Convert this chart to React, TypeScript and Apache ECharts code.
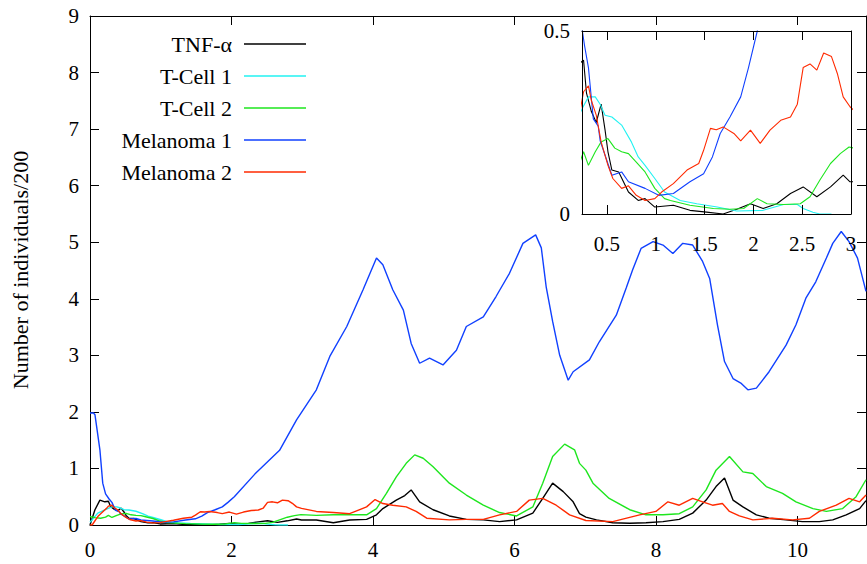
import React, { useEffect, useRef } from "react";
import * as echarts from "echarts";

const FONT = "Liberation Serif";

const mainXTicks = [0, 2, 4, 6, 8, 10];
const insetXTicks = [0.5, 1, 1.5, 2, 2.5, 3];
const yAxisTitle = "Number of individuals/200";

const seriesNames = ["TNF-\u03b1", "T-Cell 1", "T-Cell 2", "Melanoma 1", "Melanoma 2"];
const seriesColors = ["#000000", "#22f2f2", "#1ee61e", "#1040ff", "#ff2a00"];

const tnfX = [0, 0.07, 0.14, 0.21, 0.26, 0.29, 0.34, 0.39, 0.44, 0.48, 0.51, 0.55, 0.62, 0.72, 0.82, 0.89, 0.99, 1.18, 1.35, 1.52, 1.69, 1.83, 1.97, 2.1, 2.24, 2.38, 2.51, 2.65, 2.79, 2.92, 2.99, 3.2, 3.44, 3.67, 3.91, 4.05, 4.14, 4.33, 4.45, 4.54, 4.66, 4.85, 5.08, 5.32, 5.56, 5.79, 6.03, 6.26, 6.4, 6.54, 6.69, 6.83, 6.92, 7.01, 7.16, 7.39, 7.63, 7.86, 8.1, 8.33, 8.52, 8.71, 8.85, 8.97, 9.09, 9.23, 9.42, 9.6, 9.84, 10.07, 10.31, 10.5, 10.69, 10.88, 10.97];
const tnfY = [0, 0.27, 0.44, 0.41, 0.42, 0.33, 0.28, 0.25, 0.3, 0.23, 0.17, 0.12, 0.115, 0.06, 0.037, 0.042, 0.019, 0.024, 0.01, 0.005, 0, 0.013, 0.028, 0.015, 0.028, 0.056, 0.074, 0.047, 0.074, 0.106, 0.088, 0.088, 0.04, 0.088, 0.1, 0.18, 0.29, 0.44, 0.52, 0.62, 0.41, 0.27, 0.16, 0.1, 0.09, 0.06, 0.09, 0.21, 0.47, 0.74, 0.59, 0.41, 0.2, 0.14, 0.09, 0.04, 0.03, 0.04, 0.06, 0.1, 0.21, 0.44, 0.68, 0.83, 0.44, 0.32, 0.18, 0.12, 0.09, 0.06, 0.06, 0.09, 0.18, 0.29, 0.43];

const tcell1X = [0, 0.11, 0.25, 0.31, 0.38, 0.43, 0.48, 0.55, 0.65, 0.75, 0.82, 0.89, 0.99, 1.09, 1.25, 1.42, 1.63, 1.83, 2.1, 2.31, 2.45, 2.51, 2.61, 2.68, 2.8];
const tcell1Y = [0.05, 0.21, 0.29, 0.32, 0.32, 0.3, 0.27, 0.265, 0.243, 0.197, 0.156, 0.133, 0.097, 0.06, 0.037, 0.028, 0.019, 0.008, 0.01, 0.026, 0.026, 0.015, 0.005, 0, 0];

const tcell2X = [0, 0.07, 0.15, 0.22, 0.26, 0.31, 0.38, 0.44, 0.51, 0.58, 0.65, 0.72, 0.8, 0.89, 0.99, 1.09, 1.15, 1.35, 1.59, 1.76, 1.9, 2.04, 2.14, 2.31, 2.48, 2.58, 2.68, 2.79, 2.89, 2.98, 3.2, 3.44, 3.91, 4.05, 4.19, 4.33, 4.47, 4.59, 4.71, 4.85, 5.08, 5.32, 5.56, 5.79, 6.03, 6.26, 6.4, 6.54, 6.71, 6.85, 6.92, 7.01, 7.11, 7.34, 7.63, 7.86, 8.1, 8.33, 8.52, 8.71, 8.85, 9.04, 9.23, 9.37, 9.56, 9.79, 9.98, 10.22, 10.41, 10.64, 10.83, 10.97];
const tcell2Y = [0.15, 0.13, 0.12, 0.14, 0.17, 0.133, 0.17, 0.197, 0.206, 0.18, 0.17, 0.165, 0.142, 0.115, 0.07, 0.042, 0.037, 0.024, 0.015, 0.013, 0.015, 0.042, 0.028, 0.026, 0.028, 0.047, 0.092, 0.138, 0.165, 0.183, 0.17, 0.18, 0.18, 0.29, 0.56, 0.85, 1.09, 1.24, 1.18, 1.03, 0.74, 0.53, 0.35, 0.22, 0.16, 0.32, 0.74, 1.21, 1.43, 1.33, 1.09, 0.97, 0.74, 0.47, 0.27, 0.18, 0.18, 0.2, 0.32, 0.62, 0.97, 1.21, 0.94, 0.91, 0.68, 0.56, 0.41, 0.29, 0.24, 0.29, 0.5, 0.8];

const mel1X = [0, 0.05, 0.07, 0.14, 0.18, 0.22, 0.27, 0.31, 0.36, 0.41, 0.43, 0.55, 0.65, 0.72, 0.89, 1.03, 1.18, 1.35, 1.49, 1.58, 1.66, 1.76, 1.87, 1.95, 2.04, 2.33, 2.68, 2.92, 3.2, 3.39, 3.63, 3.86, 4.05, 4.14, 4.28, 4.43, 4.54, 4.66, 4.8, 4.99, 5.18, 5.32, 5.56, 5.74, 5.93, 6.12, 6.3, 6.38, 6.45, 6.54, 6.64, 6.76, 6.83, 7.06, 7.2, 7.44, 7.58, 7.67, 7.79, 7.96, 8.1, 8.24, 8.38, 8.52, 8.66, 8.76, 8.87, 8.97, 9.09, 9.2, 9.3, 9.42, 9.6, 9.84, 9.98, 10.12, 10.26, 10.41, 10.5, 10.62, 10.73, 10.85, 10.97];
const mel1Y = [1.98, 1.98, 1.95, 1.33, 0.74, 0.55, 0.46, 0.4, 0.26, 0.24, 0.2, 0.106, 0.115, 0.088, 0.07, 0.051, 0.056, 0.088, 0.11, 0.156, 0.22, 0.265, 0.32, 0.4, 0.5, 0.9, 1.32, 1.86, 2.39, 2.98, 3.51, 4.16, 4.72, 4.6, 4.16, 3.8, 3.21, 2.86, 2.95, 2.83, 3.09, 3.51, 3.68, 4.04, 4.45, 4.98, 5.13, 4.9, 4.2, 3.6, 3.0, 2.56, 2.71, 2.92, 3.24, 3.71, 4.19, 4.51, 4.89, 5.01, 4.95, 4.8, 4.98, 4.95, 4.66, 4.36, 3.54, 2.89, 2.59, 2.51, 2.39, 2.42, 2.71, 3.18, 3.54, 4.01, 4.3, 4.72, 4.98, 5.19, 5.01, 4.72, 4.13];

const mel2X = [0, 0.03, 0.11, 0.23, 0.26, 0.31, 0.34, 0.39, 0.44, 0.51, 0.56, 0.65, 0.72, 0.8, 0.89, 0.99, 1.06, 1.18, 1.32, 1.44, 1.49, 1.56, 1.62, 1.69, 1.8, 1.87, 1.97, 2.07, 2.17, 2.28, 2.38, 2.45, 2.51, 2.58, 2.65, 2.72, 2.8, 2.86, 2.92, 2.99, 3.2, 3.44, 3.67, 3.91, 4.03, 4.14, 4.28, 4.47, 4.61, 4.76, 5.08, 5.32, 5.56, 5.79, 6.03, 6.21, 6.4, 6.59, 6.78, 7.01, 7.39, 7.77, 8.0, 8.17, 8.33, 8.52, 8.66, 8.8, 8.94, 9.04, 9.18, 9.37, 9.65, 9.93, 10.17, 10.31, 10.55, 10.73, 10.88, 10.97];
const mel2Y = [0, 0, 0.15, 0.29, 0.334, 0.35, 0.31, 0.27, 0.197, 0.133, 0.097, 0.07, 0.077, 0.051, 0.037, 0.042, 0.06, 0.083, 0.12, 0.138, 0.174, 0.234, 0.23, 0.238, 0.22, 0.2, 0.229, 0.193, 0.229, 0.256, 0.265, 0.3, 0.4, 0.41, 0.393, 0.44, 0.43, 0.384, 0.32, 0.293, 0.24, 0.22, 0.2, 0.32, 0.45, 0.38, 0.35, 0.32, 0.24, 0.12, 0.09, 0.1, 0.1, 0.18, 0.24, 0.44, 0.47, 0.35, 0.18, 0.08, 0.06, 0.18, 0.24, 0.41, 0.35, 0.47, 0.41, 0.35, 0.38, 0.24, 0.16, 0.09, 0.12, 0.09, 0.12, 0.24, 0.35, 0.47, 0.41, 0.53];

const seriesXs = [tnfX, tcell1X, tcell2X, mel1X, mel2X];
const seriesYs = [tnfY, tcell1Y, tcell2Y, mel1Y, mel2Y];

const pairs = (xs: number[], ys: number[]) => xs.map((x, i) => [x, ys[i]]);

export default function App() {
  const ref = useRef<HTMLDivElement>(null);
  useEffect(() => {
    if (!ref.current) return;
    const chart = echarts.init(ref.current, null, { renderer: "svg" });
    const label = { color: "#000", fontSize: 21, fontFamily: FONT };
    const black = { color: "#000", width: 1 };
    const main = seriesNames.map((name, i) => ({
      type: "line",
      name,
      xAxisIndex: 0,
      yAxisIndex: 0,
      data: pairs(seriesXs[i], seriesYs[i]),
      symbol: "none",
      lineStyle: { color: seriesColors[i], width: 1.4 },
      itemStyle: { color: seriesColors[i] },
      z: 3,
    }));
    const inset = seriesNames.map((name, i) => ({
      type: "line",
      name,
      xAxisIndex: 2,
      yAxisIndex: 2,
      data: pairs(seriesXs[i], seriesYs[i]),
      symbol: "none",
      clip: true,
      lineStyle: { color: seriesColors[i], width: 1.1 },
      itemStyle: { color: seriesColors[i] },
      z: 5,
    }));
    chart.setOption({
      animation: false,
      backgroundColor: "#fff",
      grid: [
        { left: 90, top: 16, width: 776, height: 509, show: false },
        { left: 582, top: 31, width: 269, height: 183, show: true, backgroundColor: "#fff", borderWidth: 0, z: 4 },
      ],
      legend: {
        data: seriesNames,
        orient: "vertical",
        align: "right",
        right: 561,
        top: 33,
        padding: 0,
        itemGap: 10,
        itemWidth: 62,
        itemHeight: 1.5,
        icon: "rect",
        selectedMode: false,
        textStyle: { color: "#000", fontSize: 22, fontFamily: FONT, lineHeight: 22, padding: [0, 7, 0, 0] },
      },
      xAxis: [
        {
          gridIndex: 0, type: "value", min: 0, max: 10.97, position: "bottom",
          axisLine: { show: true, onZero: false, lineStyle: black },
          axisTick: { show: true, inside: true, length: 9, customValues: mainXTicks, lineStyle: black },
          axisLabel: { ...label, margin: 14, customValues: mainXTicks },
          splitLine: { show: false },
        },
        {
          gridIndex: 0, type: "value", min: 0, max: 10.97, position: "top",
          axisLine: { show: true, onZero: false, lineStyle: black },
          axisTick: { show: true, inside: true, length: 9, customValues: mainXTicks, lineStyle: black },
          axisLabel: { show: false },
          splitLine: { show: false },
        },
        {
          gridIndex: 1, type: "value", min: 0.244, max: 3, position: "bottom", z: 6,
          axisLine: { show: true, onZero: false, lineStyle: black },
          axisTick: { show: true, inside: true, length: 9, customValues: insetXTicks, lineStyle: black },
          axisLabel: { ...label, margin: 19, customValues: insetXTicks },
          splitLine: { show: false },
        },
        {
          gridIndex: 1, type: "value", min: 0.244, max: 3, position: "top", z: 6,
          axisLine: { show: true, onZero: false, lineStyle: black },
          axisTick: { show: true, inside: true, length: 9, customValues: insetXTicks, lineStyle: black },
          axisLabel: { show: false },
          splitLine: { show: false },
        },
      ],
      yAxis: [
        {
          gridIndex: 0, type: "value", min: 0, max: 9, interval: 1, position: "left",
          axisLine: { show: true, onZero: false, lineStyle: black },
          axisTick: { show: true, inside: true, length: 9, lineStyle: black },
          axisLabel: { ...label, margin: 11 },
          splitLine: { show: false },
        },
        {
          gridIndex: 0, type: "value", min: 0, max: 9, interval: 1, position: "right",
          axisLine: { show: true, onZero: false, lineStyle: black },
          axisTick: { show: true, inside: true, length: 9, lineStyle: black },
          axisLabel: { show: false },
          splitLine: { show: false },
        },
        {
          gridIndex: 1, type: "value", min: 0, max: 0.5, interval: 0.5, position: "left", z: 6,
          axisLine: { show: true, onZero: false, lineStyle: black },
          axisTick: { show: false },
          axisLabel: { ...label, margin: 12 },
          splitLine: { show: false },
        },
        {
          gridIndex: 1, type: "value", min: 0, max: 0.5, interval: 0.5, position: "right", z: 6,
          axisLine: { show: true, onZero: false, lineStyle: black },
          axisTick: { show: false },
          axisLabel: { show: false },
          splitLine: { show: false },
        },
      ],
      graphic: [
        {
          type: "text",
          x: 20,
          y: 270,
          rotation: Math.PI / 2,
          style: {
            text: yAxisTitle,
            fill: "#000",
            fontSize: 22,
            fontFamily: FONT,
            align: "center",
            verticalAlign: "middle",
          },
        },
      ],
      series: [...main, ...inset],
    });
    return () => chart.dispose();
  }, []);
  return (
    <div
      ref={ref}
      style={{ position: "fixed", left: 0, top: 0, width: 867, height: 564, background: "#fff" }}
    />
  );
}
